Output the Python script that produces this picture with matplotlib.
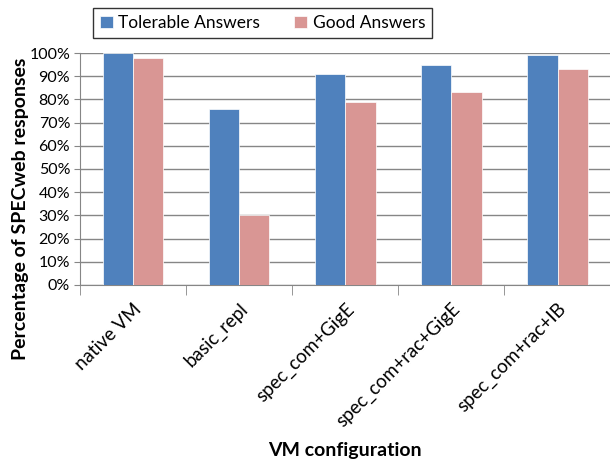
import matplotlib.pyplot as plt
import numpy as np

configs = ["native VM", "basic_repl", "spec_com+GigE", "spec_com+rac+GigE", "spec_com+rac+IB"]
tolerable = [100, 76, 91, 95, 99]
good = [98, 30, 79, 83, 93]

plt.rcParams["font.family"] = ["Lato", "DejaVu Sans"]

fig = plt.figure(figsize=(6.1, 4.61), dpi=100)
ax = fig.add_axes([0.131, 0.382, 0.87, 0.503])

x = np.arange(len(configs))
w = 0.285
ax.bar(x - w / 2, tolerable, w, color="#4F81BD", edgecolor="white", linewidth=0.5,
       label="Tolerable Answers", zorder=3)
ax.bar(x + w / 2, good, w, color="#D99694", edgecolor="white", linewidth=0.5,
       label="Good Answers", zorder=3)

ax.set_xlim(-0.5, len(configs) - 0.5)
ax.set_ylim(0, 100)
ax.set_yticks(np.arange(0, 101, 10))
ax.set_yticklabels([f"{v}%" for v in range(0, 101, 10)], fontsize=11.5)
ax.yaxis.grid(True, color="#868686", linewidth=1, zorder=0)

# category labels sit at centres, ticks sit between groups
ax.set_xticks(x)
ax.set_xticklabels(configs, rotation=45, ha="right", rotation_mode="anchor", fontsize=13.5)
ax.set_xticks(np.arange(-0.5, len(configs) + 0.5, 1), minor=True)
ax.tick_params(axis="x", which="major", length=0, pad=11)
ax.tick_params(axis="x", which="minor", length=7, color="#868686")
ax.tick_params(axis="y", length=4, color="#868686", pad=3)

for s in ["top", "right"]:
    ax.spines[s].set_visible(False)
for s in ["left", "bottom"]:
    ax.spines[s].set_color("#868686")

fig.text(0.033, 0.548, "Percentage of SPECweb responses", fontsize=14, fontweight="bold",
         rotation=90, ha="center", va="center")
fig.text(0.565, 0.004, "VM configuration", fontsize=14, fontweight="bold", ha="center", va="bottom")

leg = fig.legend(loc="center", bbox_to_anchor=(0.43, 0.95), ncol=2, fontsize=12.5,
                 frameon=True, fancybox=False, edgecolor="black", handlelength=0.75,
                 handleheight=0.75, handletextpad=0.3, columnspacing=2.0, borderpad=0.4)
leg.get_frame().set_linewidth(1)

fig.savefig("out.png", dpi=100)
